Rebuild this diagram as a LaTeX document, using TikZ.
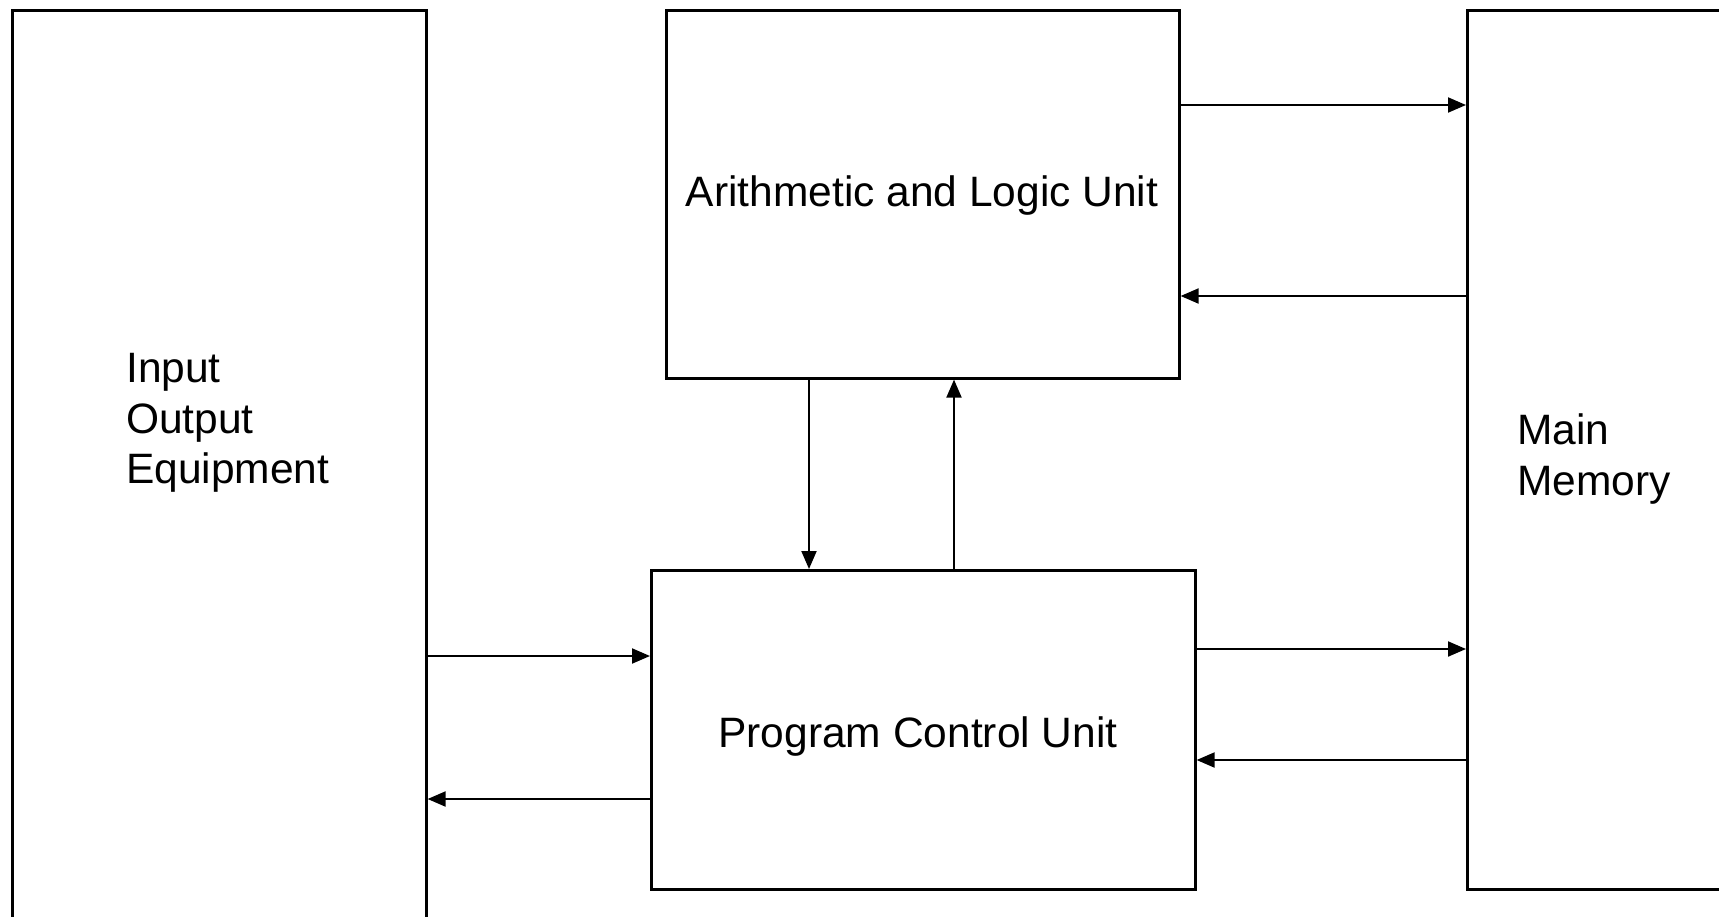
\documentclass[tikz,border=0pt]{standalone}
\usepackage{fontspec}
\setmainfont{Liberation Sans}
\usetikzlibrary{arrows.meta}
\tikzset{
  unitbox/.style={draw=black, line width=2.6pt, rectangle, inner sep=0pt, anchor=north west},
  boxlabel/.style={inner sep=0pt, align=left, anchor=west,
    font=\fontsize{42.5}{50.5}\selectfont},
  unitlabel/.style={inner sep=0pt, font=\fontsize{42.5}{50.5}\selectfont},
  flow/.style={line width=2pt, -{Triangle[length=18pt, width=15pt]}}
}
\begin{document}
\begin{tikzpicture}[x=1pt, y=-1pt]
  \useasboundingbox (0,0) rectangle (1719,916);
  \fill[white] (0,0) rectangle (1719,916);
  \clip (0,0) rectangle (1719,916);

  % the four units
  \node[unitbox, minimum width=414pt, minimum height=940pt] (io) at (11,9) {};
  \node[unitbox, minimum width=513pt, minimum height=368pt] (alu) at (665,9) {};
  \node[unitbox, minimum width=544pt, minimum height=319pt] (pcu) at (650,569) {};
  \node[unitbox, minimum width=280pt, minimum height=879pt] (mem) at (1466,9) {};

  % unit names
  \node[unitlabel] (alutext) at (922,196) {Arithmetic and Logic Unit};
  \node[unitlabel] (pcutext) at (918,737) {Program Control Unit};
  \node[boxlabel] (iotext) at (126,423) {Input\\Output\\Equipment};
  \node[boxlabel] (memtext) at (1517,459) {Main\\Memory};

  % levels of the horizontal and vertical links
  \coordinate (h1) at (0,105);
  \coordinate (h2) at (0,296);
  \coordinate (h3) at (0,649);
  \coordinate (h4) at (0,760);
  \coordinate (h5) at (0,656);
  \coordinate (h6) at (0,799);
  \coordinate (v1) at (809,0);
  \coordinate (v2) at (954,0);

  % data paths
  \draw[flow] (alu.east |- h1) -- (mem.west |- h1);
  \draw[flow] (mem.west |- h2) -- (alu.east |- h2);
  \draw[flow] (pcu.east |- h3) -- (mem.west |- h3);
  \draw[flow] (mem.west |- h4) -- (pcu.east |- h4);
  \draw[flow] (io.east |- h5) -- (pcu.west |- h5);
  \draw[flow] (pcu.west |- h6) -- (io.east |- h6);
  \draw[flow] (alu.south -| v1) -- (pcu.north -| v1);
  \draw[flow] (pcu.north -| v2) -- (alu.south -| v2);
\end{tikzpicture}
\end{document}
